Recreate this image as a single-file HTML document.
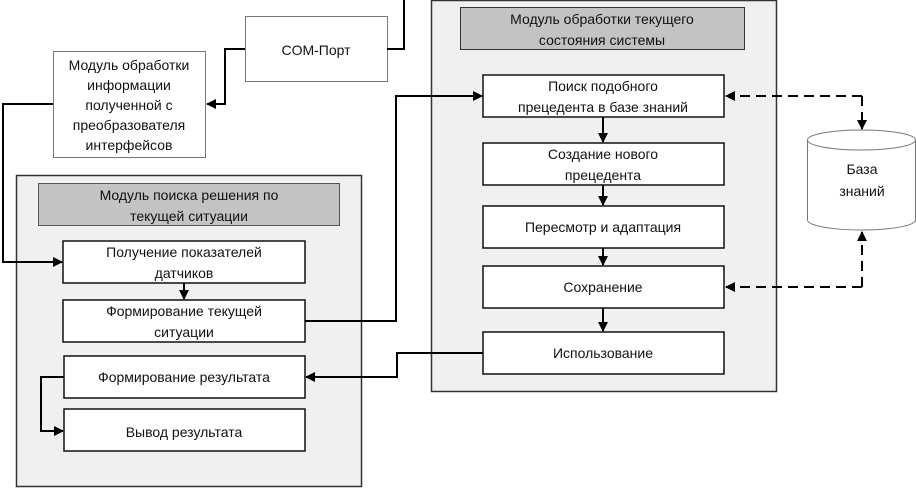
<!DOCTYPE html>
<html><head><meta charset="utf-8"><style>
html,body{margin:0;padding:0;background:#fff;}
svg text{font-family:"Liberation Sans",sans-serif;font-size:14px;fill:#111;text-anchor:middle;}
</style></head><body>
<svg width="916" height="488" xmlns="http://www.w3.org/2000/svg">
<defs><marker id="a" markerWidth="10" markerHeight="10" refX="9" refY="5" orient="auto" markerUnits="userSpaceOnUse"><path d="M0,0 L10,5 L0,10 Z" fill="#000"/></marker></defs>
<!-- containers -->
<rect x="16.5" y="175.5" width="345" height="311" fill="#f0f0f0" stroke="#333" stroke-width="1.5"/>
<rect x="38.5" y="183.5" width="301" height="42" fill="#c3c3c3" stroke="#555"/>
<text x="189" y="200">Модуль поиска решения по</text><text x="189" y="221">текущей ситуации</text>
<rect x="431.5" y="0.5" width="345" height="391" fill="#f0f0f0" stroke="#333" stroke-width="1.5"/>
<rect x="460.5" y="7.5" width="284" height="42" fill="#c3c3c3" stroke="#333"/>
<text x="602" y="24">Модуль обработки текущего</text><text x="602" y="45">состояния системы</text>
<!-- top boxes -->
<rect x="245.5" y="16.5" width="142" height="65" fill="#fff" stroke="#777"/>
<text x="316" y="55">COM-Порт</text>
<rect x="53.5" y="51.5" width="152" height="106" fill="#fff" stroke="#777"/>
<text x="129" y="70">Модуль обработки</text><text x="129" y="90">информации</text><text x="129" y="110">полученной с</text><text x="129" y="130">преобразователя</text><text x="129" y="150">интерфейсов</text>
<!-- left boxes -->
<g fill="#fff" stroke="#111" stroke-width="1.5">
<rect x="63" y="241" width="242" height="42"/><rect x="63" y="300" width="242" height="42"/>
<rect x="64" y="356" width="241" height="42"/><rect x="64" y="409" width="241" height="42"/>
<rect x="483" y="75" width="241" height="42"/><rect x="483" y="143" width="241" height="42"/>
<rect x="483" y="206" width="241" height="42"/><rect x="483" y="266" width="241" height="42"/>
<rect x="483" y="332" width="241" height="42"/>
</g>
<text x="184" y="257">Получение показателей</text><text x="184" y="278">датчиков</text>
<text x="184" y="316">Формирование текущей</text><text x="184" y="337">ситуации</text>
<text x="184" y="382">Формирование результата</text>
<text x="184" y="437">Вывод результата</text>
<text x="603" y="91">Поиск подобного</text><text x="603" y="112">прецедента в базе знаний</text>
<text x="603" y="159">Создание нового</text><text x="603" y="180">прецедента</text>
<text x="603" y="232">Пересмотр и адаптация</text>
<text x="603" y="292">Сохранение</text>
<text x="603" y="358">Использование</text>
<!-- cylinder -->
<path d="M807.5,140 L807.5,220 A54,10 0 0 0 915.5,220 L915.5,140" fill="#fff" stroke="#777"/>
<ellipse cx="861.5" cy="140" rx="54" ry="10" fill="#fff" stroke="#777"/>
<text x="862" y="174">База</text><text x="862" y="196">знаний</text>
<!-- connectors -->
<g fill="none" stroke="#000" stroke-width="2">
<path d="M387,49 H404 V0"/>
<path d="M245,49 H225 V104 H207" marker-end="url(#a)"/>
<path d="M53,104 H3 V262 H62" marker-end="url(#a)"/>
<path d="M184,283 V299" marker-end="url(#a)"/>
<path d="M305,321 H396 V96 H482" marker-end="url(#a)"/>
<path d="M483,353 H397 V377 H306" marker-end="url(#a)"/>
<path d="M64,377 H41 V431 H63" marker-end="url(#a)"/>
<path d="M603,117 V142" marker-end="url(#a)"/>
<path d="M603,185 V205" marker-end="url(#a)"/>
<path d="M603,248 V265" marker-end="url(#a)"/>
<path d="M603,308 V331" marker-end="url(#a)"/>
</g>
<g fill="none" stroke="#000" stroke-width="2" stroke-dasharray="10,6">
<path d="M862,96 H726" marker-end="url(#a)"/>
<path d="M862,96 V129" marker-end="url(#a)"/>
<path d="M862,287 H726" marker-end="url(#a)"/>
<path d="M862,287 V232" marker-end="url(#a)"/>
</g>
</svg>
</body></html>
